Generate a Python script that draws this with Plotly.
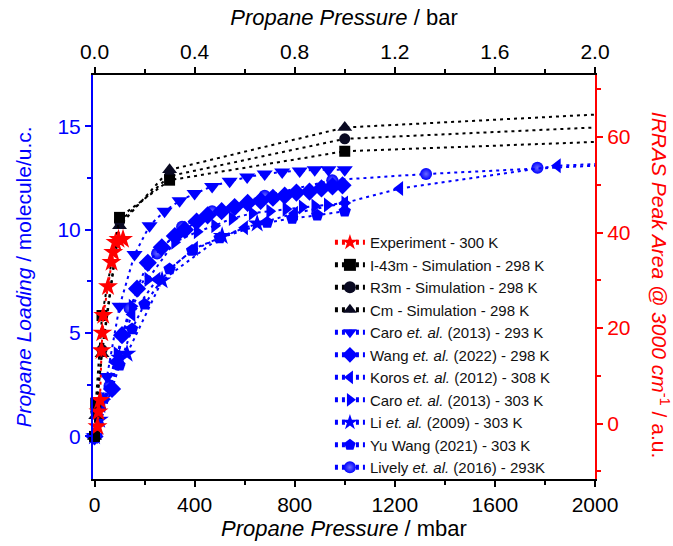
import plotly.graph_objects as go

# ---------------- data ----------------
exp_p = [12, 16, 22, 28, 31, 35, 54, 68, 75, 84, 96, 114]
exp_area = [-0.6, 2.5, 4.9, 15.3, 19.0, 22.7, 28.7, 33.8, 35.9, 38.0, 38.6, 38.6]

sim_p = [0, 5, 30, 100, 300, 1000, 3000]
i43m_load = [0, 1.6, 5.85, 10.6, 12.4, 13.8, 14.7]
r3m_load = [0, 1.2, 4.2, 10.4, 12.6, 14.4, 15.5]
cm_load = [0, 1.0, 4.0, 10.2, 12.9, 14.95, 16.2]

caro293_p = [0, 50, 100, 160, 220, 280, 340, 400, 470, 540, 610, 680, 750, 820, 880, 935, 1000]
caro293_load = [0, 2.9, 6.3, 8.8, 10.2, 10.9, 11.4, 11.75, 12.1, 12.35, 12.55, 12.7, 12.8, 12.85, 12.9, 12.9, 12.9]

wang_p = [0, 70, 110, 170, 213, 269, 321, 361, 408, 452, 508, 560, 612, 664, 713, 760, 807, 859, 907, 951, 991]
wang_load = [0, 2.3, 4.9, 7.15, 8.4, 9.15, 9.7, 10.0, 10.4, 10.7, 10.9, 11.1, 11.3, 11.4, 11.55, 11.65, 11.8, 11.85, 12.0, 12.1, 12.15]

koros_p = [0, 30, 80, 150, 250, 400, 600, 800, 1000, 1220, 1850, 2500]
koros_load = [0, 1.5, 3.6, 5.9, 7.6, 9.1, 10.1, 10.8, 11.3, 12.0, 13.1, 13.45]

caro303_p = [0, 40, 90, 150, 213, 320, 410, 480, 550, 630, 700, 765, 830, 880, 930, 1000]
caro303_load = [0, 1.8, 4.0, 6.3, 7.6, 9.4, 9.9, 10.2, 10.55, 10.8, 10.9, 11.0, 11.1, 11.15, 11.2, 11.3]

li_p = [0, 20, 100, 130, 270, 510, 650]
li_load = [0, 0.8, 3.8, 4.0, 7.55, 9.7, 10.3]

yuwang_p = [0, 70, 100, 150, 200, 300, 390, 500, 690, 790, 890, 1000]
yuwang_load = [0, 2.3, 3.45, 5.2, 6.4, 8.1, 9.0, 9.6, 10.35, 10.55, 10.7, 10.9]

lively_p = [0, 60, 140, 250, 350, 470, 680, 950, 1325, 1770, 2500]
lively_load = [0, 2.45, 6.2, 8.85, 10.15, 10.9, 11.65, 12.4, 12.7, 13.0, 13.4]

bottom_ticks = [0, 400, 800, 1200, 1600, 2000]
top_ticks = [0.0, 0.4, 0.8, 1.2, 1.6, 2.0]
left_ticks = [0, 5, 10, 15]
right_ticks = [0, 20, 40, 60]

# ---------------- styling ----------------
FONT = "Liberation Sans, Arial, sans-serif"
BLUE = "#0000ff"
RED = "#ff0000"
BLACK = "#000000"
XMAX = 2000

fig = go.Figure()


def add(name, xs, ys, symbol, size, color, rank, yaxis="y", lcolor=None, gradient=None):
    sizes = [size if x <= XMAX else 0 for x in xs]
    marker = dict(symbol=symbol, size=sizes, color=color, opacity=1, line=dict(width=0))
    if gradient:
        marker["gradient"] = dict(type="radial", color=gradient)
    fig.add_trace(go.Scatter(
        x=xs, y=ys, name=name, mode="lines+markers", yaxis=yaxis,
        line=dict(color=lcolor or color, width=2, dash="3px,4px"),
        marker=marker, cliponaxis=False, legendrank=rank,
    ))


add("Lively <i>et. al.</i> (2016) - 293K", lively_p, lively_load, "circle", 12, BLUE, 11, gradient="#6a6aff")
add("Yu Wang (2021) - 303 K", yuwang_p, yuwang_load, "pentagon", 13, BLUE, 10)
add("Li <i>et. al.</i> (2009) - 303 K", li_p, li_load, "star", 14, BLUE, 9)
add("Caro <i>et. al.</i> (2013) - 303 K", caro303_p, caro303_load, "triangle-right", 13, BLUE, 8)
add("Koros <i>et. al.</i> (2012) - 308 K", koros_p, koros_load, "triangle-left", 13, BLUE, 7)
add("Wang <i>et. al.</i> (2022) - 298 K", wang_p, wang_load, "diamond", 14, BLUE, 6)
add("Caro <i>et. al.</i> (2013) - 293 K", caro293_p, caro293_load, "triangle-down", 14, BLUE, 5)
add("Cm - Simulation - 298 K", sim_p, cm_load, "triangle-up", 13, "#0a0a22", 4, lcolor=BLACK)
add("R3m - Simulation - 298 K", sim_p, r3m_load, "circle", 11, "#0a0a22", 3, lcolor=BLACK)
add("I-43m - Simulation - 298 K", sim_p, i43m_load, "square", 11, BLACK, 2)
add("Experiment - 300 K", exp_p, exp_area, "star", 15, RED, 1, yaxis="y2")

# invisible trace that activates the top (bar) axis
fig.add_trace(go.Scatter(x=[top_ticks[0], top_ticks[-1]], y=[None, None], xaxis="x2",
                         showlegend=False, hoverinfo="skip", mode="markers"))

tickfont = dict(family=FONT, size=21)

fig.update_layout(
    width=673, height=546,
    margin=dict(l=93, r=78, t=75, b=63),
    paper_bgcolor="white", plot_bgcolor="white",
    font=dict(family=FONT, color=BLACK),
    showlegend=True,
    legend=dict(x=0.472, y=0.626, xanchor="left", yanchor="top",
                bgcolor="rgba(0,0,0,0)", font=dict(family=FONT, size=15, color="#111111"),
                itemsizing="constant"),
    xaxis=dict(range=[-6, XMAX], tickvals=bottom_ticks, ticks="outside", ticklen=6, tickwidth=2,
               tickcolor=BLACK, showline=True, linecolor=BLACK, linewidth=2, showgrid=False,
               zeroline=False, tickfont=dict(tickfont, color=BLACK),
               minor=dict(dtick=200, tick0=0, ticks="outside", ticklen=4, tickwidth=2, tickcolor=BLACK),
               title=dict(text="<i>Propane Pressure</i> / mbar", font=dict(family=FONT, size=22, color=BLACK),
                          standoff=2)),
    xaxis2=dict(range=[-0.006, XMAX / 1000], overlaying="x", side="top", anchor="y",
                tickvals=top_ticks, tickformat=".1f", ticks="outside", ticklen=6, tickwidth=2,
                tickcolor=BLACK, showline=True, linecolor=BLACK, linewidth=2, showgrid=False,
                zeroline=False, tickfont=dict(tickfont, color=BLACK),
                minor=dict(dtick=0.2, tick0=0, ticks="outside", ticklen=4, tickwidth=2, tickcolor=BLACK),
                title=dict(text="<i>Propane Pressure</i> / bar", font=dict(family=FONT, size=22, color=BLACK),
                           standoff=8)),
    yaxis=dict(range=[-2.06, 17.49], tickvals=left_ticks, ticks="outside", ticklen=6, tickwidth=2,
               tickcolor=BLUE, showline=True, linecolor=BLUE, linewidth=2, showgrid=False,
               zeroline=False, tickfont=dict(tickfont, color=BLUE),
               minor=dict(dtick=2.5, tick0=0, ticks="outside", ticklen=4, tickwidth=2, tickcolor=BLUE),
               title=dict(text="<i>Propane Loading</i> / molecule/u.c.",
                          font=dict(family=FONT, size=21, color=BLUE), standoff=20)),
    yaxis2=dict(range=[-11.6, 73.0], overlaying="y", side="right", anchor="x",
                tickvals=right_ticks, ticks="outside", ticklen=6, tickwidth=2,
                tickcolor=RED, showline=True, linecolor=RED, linewidth=2, showgrid=False,
                zeroline=False, tickfont=dict(tickfont, color=RED),
                minor=dict(dtick=10, tick0=0, ticks="outside", ticklen=4, tickwidth=2, tickcolor=RED)),
    annotations=[dict(
        text="<i>IRRAS Peak Area @ 3000 cm</i><sup>-1</sup> / a.u.",
        xref="paper", yref="paper", x=1.13, y=0.48, textangle=90, showarrow=False,
        font=dict(family=FONT, size=21, color=RED), xanchor="center", yanchor="middle",
    )],
)

fig.write_html("out.html")
